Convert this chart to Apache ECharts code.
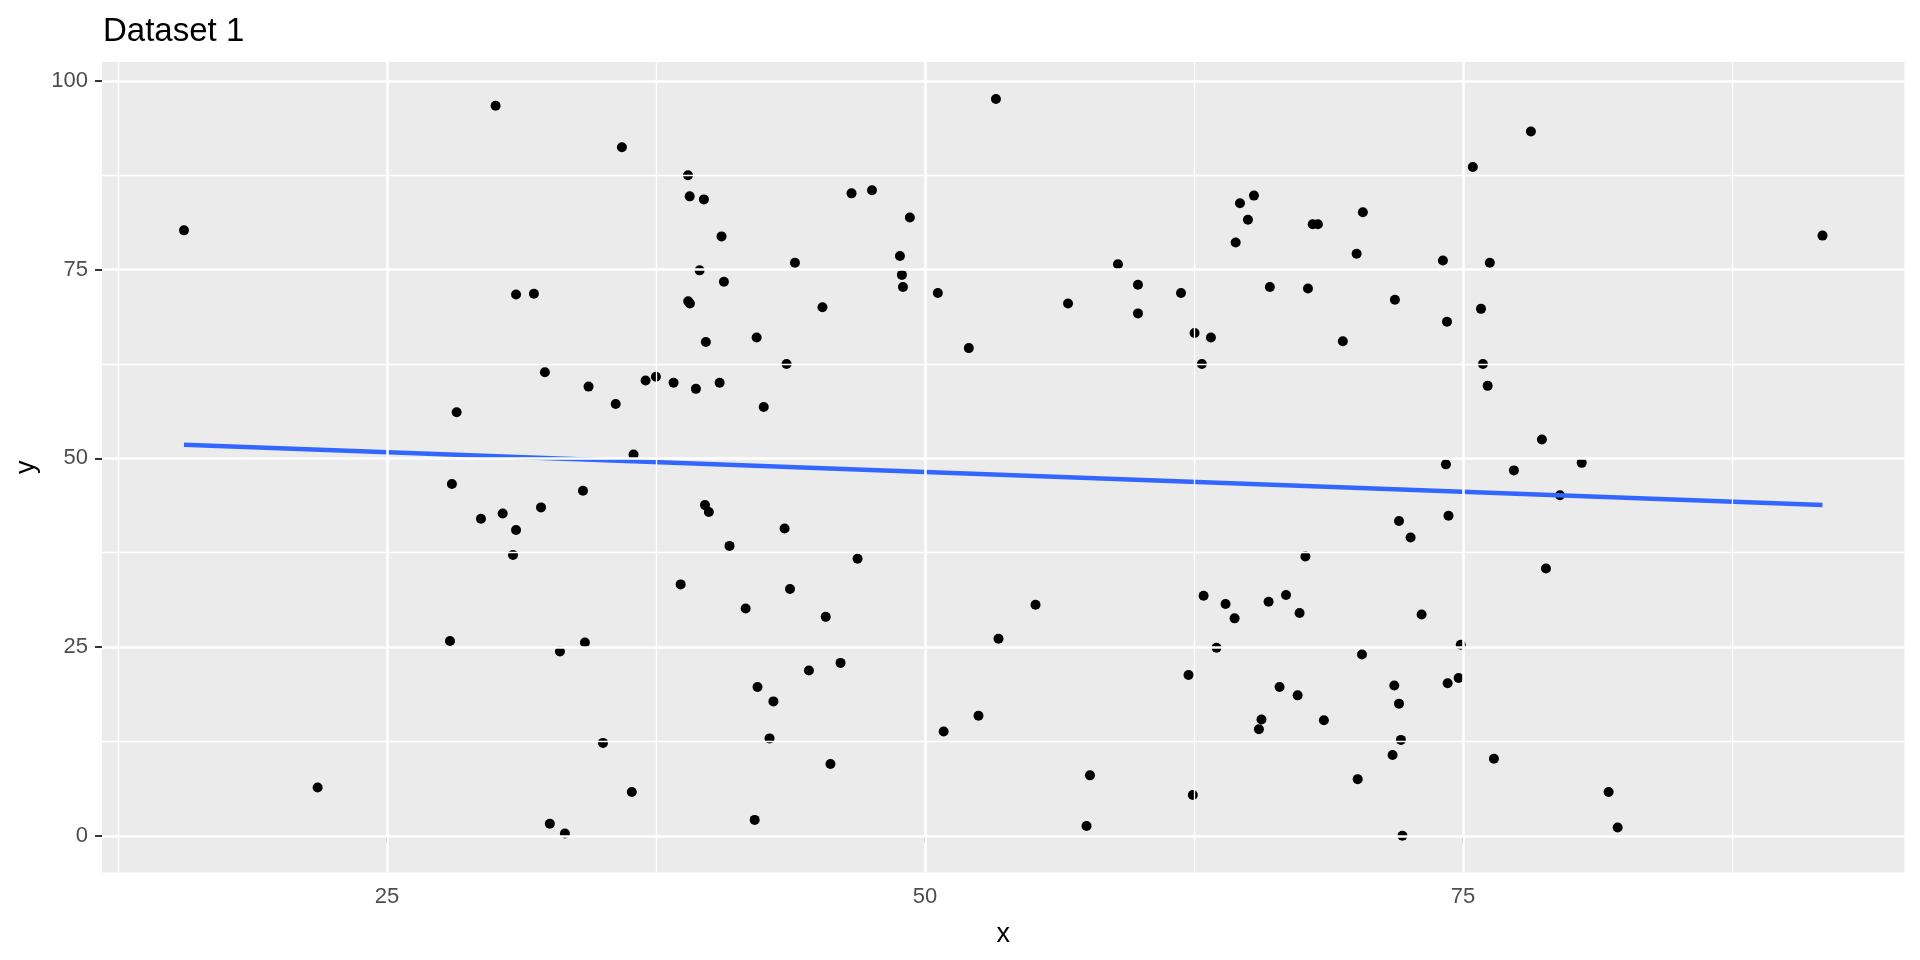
<!DOCTYPE html>
<html>
<head>
<meta charset="utf-8">
<script src="https://cdn.jsdelivr.net/npm/echarts@6/dist/echarts.min.js"></script>
<style>
html,body{margin:0;padding:0;background:#fff;}
#chart{width:1920px;height:960px;}
</style>
</head>
<body>
<div id="chart"></div>
<script>
const titleText = 'Dataset 1';
const xTicks = [25, 50, 75];
const yTicks = [0, 25, 50, 75, 100];
const xMinorGrid = [12.5, 37.5, 62.5, 87.5];
const yMinorGrid = [12.5, 37.5, 62.5, 87.5];

const xs = [
  30.05, 15.57, 31.0, 31.83, 32.34, 28.24,
  53.3, 35.92, 38.99, 39.07, 39.73, 40.55, 46.59, 47.54, 49.30, 39.53, 40.66, 43.96, 48.84, 48.93, 48.98, 50.60, 39.08, 39.0, 45.24, 39.82, 42.18, 43.57, 52.04, 34.37, 35.63, 37.02, 37.50, 38.32, 39.36, 40.46, 42.51, 36.46,
  65.29, 64.64, 65.01, 64.44, 68.02, 68.26, 70.35, 70.06, 74.07, 58.97, 59.90, 56.65, 59.90, 61.90, 66.03, 67.80, 71.84, 74.26, 62.53, 63.29, 62.87, 69.42, 74.21,
  78.16, 75.46, 91.71, 76.25, 75.84, 75.93, 76.15, 78.67, 80.52, 77.37, 79.51,
  28.02, 29.37, 30.38, 32.16, 31.0, 30.86, 27.93, 33.04, 21.78, 32.57, 33.27,
  34.11, 39.78, 39.96, 43.48, 40.92, 46.87, 38.65, 43.73, 41.67, 45.39, 34.20, 53.42, 46.08, 44.61, 42.22, 42.96, 52.49, 50.87, 35.04, 42.78, 45.61, 36.38, 42.09,
  72.03, 72.57, 74.33, 67.68, 55.14, 62.95, 63.97, 64.39, 65.97, 66.78, 67.41, 73.08, 63.55, 74.9, 70.31, 62.25, 74.80, 74.29, 71.81, 66.48, 67.32, 72.03, 65.64, 65.52, 68.54, 72.12, 71.73, 57.67, 62.45, 70.11, 57.51, 72.19,
  78.86, 76.44, 81.77, 82.19
];
const ys = [
  96.7, 80.2, 71.7, 71.8, 61.4, 56.1,
  97.6, 91.2, 87.5, 84.7, 84.3, 79.4, 85.1, 85.5, 81.9, 74.9, 73.4, 75.9, 76.8, 74.3, 72.7, 71.9, 70.5, 70.8, 70.0, 65.4, 66.0, 62.5, 64.6, 59.5, 57.2, 60.3, 60.8, 60.0, 59.2, 60.0, 56.8, 50.5,
  84.8, 83.8, 81.6, 78.6, 81.0, 81.0, 82.6, 77.1, 76.2, 75.7, 73.0, 70.5, 69.2, 71.9, 72.7, 72.5, 71.0, 68.1, 66.6, 66.0, 62.5, 65.5, 49.2,
  93.3, 88.6, 79.5, 75.9, 69.8, 62.5, 59.6, 52.5, 49.4, 48.4, 45.1,
  46.6, 42.0, 42.7, 43.5, 40.5, 37.2, 25.8, 24.4, 6.4, 1.6, 0.3,
  45.7, 43.8, 42.9, 40.7, 38.4, 36.7, 33.3, 32.7, 30.1, 29.0, 25.6, 26.1, 22.9, 21.9, 19.7, 17.8, 15.9, 13.8, 12.3, 12.9, 9.5, 5.8, 2.1,
  41.7, 39.5, 42.4, 37.0, 30.6, 31.8, 30.7, 28.8, 31.0, 31.9, 29.5, 29.3, 24.9, 25.3, 24.0, 21.3, 20.9, 20.2, 19.9, 19.7, 18.6, 17.5, 15.4, 14.1, 15.3, 12.7, 10.7, 8.0, 5.4, 7.5, 1.3, 0.0,
  35.4, 10.2, 5.8, 1.1
];
// fitted line endpoints
const fitX = [15.57, 91.71];
const fitY = [51.8, 43.8];

const points = xs.map((x, i) => [x, ys[i]]);
const fitLine = fitX.map((x, i) => [x, fitY[i]]);

const FONT = '"Liberation Sans", Arial, sans-serif';

const gridLines = [];
xTicks.forEach(v => gridLines.push({xAxis: v, lineStyle: {width: 2.6}}));
xMinorGrid.forEach(v => gridLines.push({xAxis: v, lineStyle: {width: 1.3}}));
yTicks.forEach(v => gridLines.push({yAxis: v, lineStyle: {width: 2.6}}));
yMinorGrid.forEach(v => gridLines.push({yAxis: v, lineStyle: {width: 1.3}}));

const chart = echarts.init(document.getElementById('chart'), null, {renderer: 'canvas'});
chart.setOption({
  animation: false,
  backgroundColor: '#ffffff',
  title: {
    text: titleText,
    left: 98,
    top: 10,
    textStyle: {fontFamily: FONT, fontSize: 33, fontWeight: 'normal', color: '#000000'}
  },
  grid: {
    left: 102, right: 15.5, top: 62, bottom: 87.4,
    show: true, backgroundColor: '#EBEBEB', borderWidth: 0
  },
  xAxis: {
    type: 'value',
    min: 11.76, max: 95.52,
    name: 'x', nameLocation: 'middle', nameGap: 48,
    nameTextStyle: {fontFamily: FONT, fontSize: 27, color: '#000000'},
    axisLine: {show: false},
    splitLine: {show: false},
    axisTick: {show: true, length: 7, customValues: xTicks, lineStyle: {color: '#333333', width: 2}},
    axisLabel: {customValues: xTicks, margin: 13, fontFamily: FONT, fontSize: 22, color: '#4D4D4D'}
  },
  yAxis: {
    type: 'value',
    min: -4.88, max: 102.5,
    name: 'y', nameLocation: 'middle', nameGap: 57,
    nameTextStyle: {fontFamily: FONT, fontSize: 27, color: '#000000'},
    axisLine: {show: false},
    splitLine: {show: false},
    axisTick: {show: true, length: 7, customValues: yTicks, lineStyle: {color: '#333333', width: 2}},
    axisLabel: {customValues: yTicks, margin: 14, fontFamily: FONT, fontSize: 22, color: '#4D4D4D'}
  },
  series: [
    {
      type: 'scatter',
      data: [],
      z: 1,
      silent: true,
      markLine: {
        silent: true,
        symbol: ['none', 'none'],
        label: {show: false},
        lineStyle: {color: '#ffffff', type: 'solid'},
        emphasis: {disabled: true},
        animation: false,
        data: gridLines
      }
    },
    {
      type: 'scatter',
      data: points,
      z: 3,
      symbol: 'circle',
      symbolSize: 10,
      itemStyle: {color: '#000000', opacity: 1}
    },
    {
      type: 'line',
      data: fitLine,
      z: 4,
      showSymbol: false,
      symbol: 'none',
      lineStyle: {color: '#3366FF', width: 4.5, opacity: 1},
      itemStyle: {color: '#3366FF'}
    }
  ]
});
</script>
</body>
</html>
